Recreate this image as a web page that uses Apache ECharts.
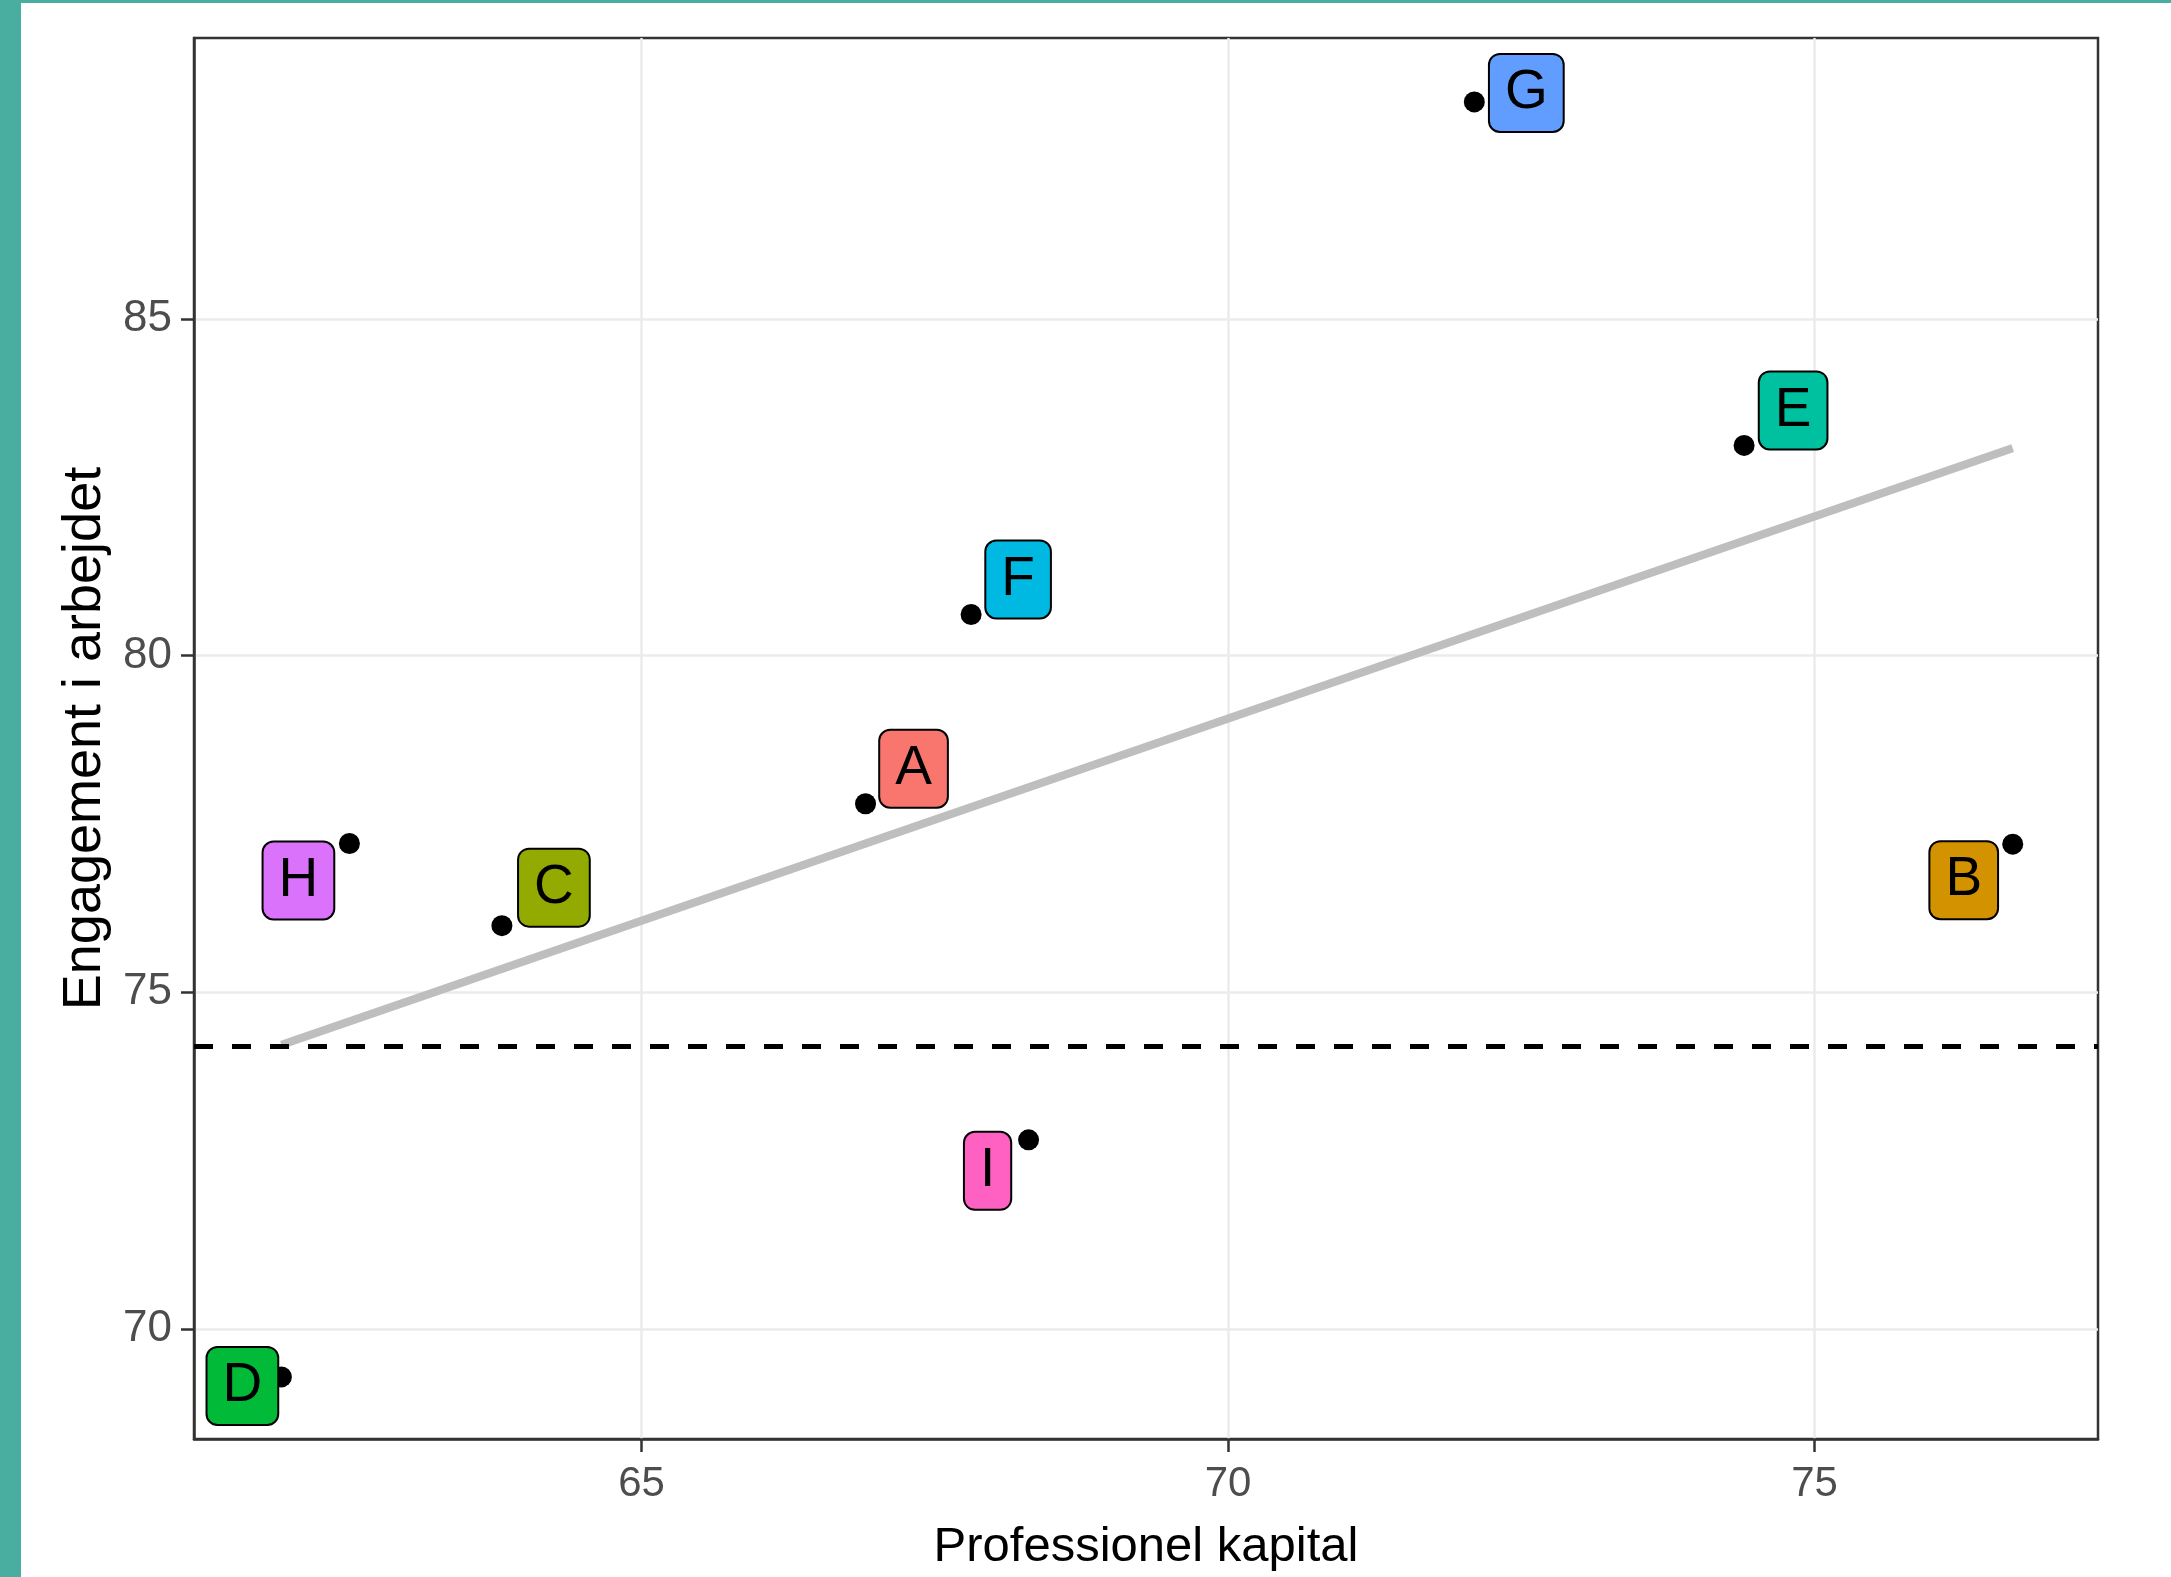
<!DOCTYPE html>
<html>
<head>
<meta charset="utf-8">
<title>Engagement vs professionel kapital</title>
<script src="https://cdn.jsdelivr.net/npm/echarts@6/dist/echarts.min.js"></script>
<style>
    html, body { margin: 0; padding: 0; background: #fff; }
    #chart { width: 2171px; height: 1577px; }
</style>
</head>
<body>
<div id="chart"></div>
<script>
// data
var categories = ['A', 'B', 'C', 'D', 'E', 'F', 'G', 'H', 'I'];
var kapital    = [66.91, 76.69, 63.81, 61.93, 74.40, 67.81, 72.10, 62.51, 68.30];
var engagement = [77.80, 77.20, 75.99, 69.29, 83.12, 80.61, 88.22, 77.21, 72.81];
var xTicks = [65, 70, 75];
var yTicks = [70, 75, 80, 85];
var trendX = [61.93, 76.69];
var trendY = [74.22, 83.08];
var dashLevel = 74.2;

// ggplot hue palette, one colour per group
var colors = ['#F8766D', '#D39200', '#93AA00', '#00BA38', '#00C19F',
              '#00B9E3', '#619CFF', '#DB72FB', '#FF61C3'];
// where each label box sits relative to its point (px), like ggrepel put them
var labelOffsets = [[48, -35], [-49, 36], [52, -38], [-39, 9], [49, -35],
                    [47, -35], [52, -9], [-51, 37], [-41, 31]];

var chart = echarts.init(document.getElementById('chart'));

var pointData = [];
for (var i = 0; i < categories.length; i++) {
    pointData.push({
        name: categories[i],
        value: [kapital[i], engagement[i]],
        label: {
            backgroundColor: colors[i],
            offset: labelOffsets[i]
        }
    });
}

var trendData = [];
for (var j = 0; j < trendX.length; j++) {
    trendData.push([trendX[j], trendY[j]]);
}

var option = {
    animation: false,
    backgroundColor: '#fff',
    graphic: [
        {type: 'rect', shape: {x: 0, y: 0, width: 21, height: 1577}, style: {fill: '#49AE9F'}, z: 100},
        {type: 'rect', shape: {x: 0, y: 0, width: 2171, height: 3}, style: {fill: '#49AE9F'}, z: 100}
    ],
    grid: {
        left: 194,
        right: 73,
        top: 38,
        bottom: 137,
        show: true,
        borderColor: '#333',
        borderWidth: 2.5,
        backgroundColor: '#fff'
    },
    xAxis: {
        type: 'value',
        min: 61.185,
        max: 77.417,
        splitNumber: 3,
        name: 'Professionel kapital',
        nameLocation: 'middle',
        nameGap: 84,
        nameTextStyle: {
            color: '#000',
            fontFamily: 'Liberation Sans',
            fontSize: 49
        },
        axisLine: {show: true, lineStyle: {color: '#333', width: 2.5}},
        axisTick: {show: true, length: 13, customValues: xTicks, lineStyle: {color: '#333', width: 2.5}},
        axisLabel: {customValues: xTicks, margin: 24, color: '#4D4D4D', fontFamily: 'Liberation Sans', fontSize: 42},
        splitLine: {show: true, lineStyle: {color: '#EBEBEB', width: 2.5}}
    },
    yAxis: {
        type: 'value',
        min: 68.368,
        max: 89.169,
        splitNumber: 3,
        name: 'Engagement i arbejdet',
        nameLocation: 'middle',
        nameGap: 73,
        nameTextStyle: {
            color: '#000',
            fontFamily: 'Liberation Sans',
            fontSize: 54
        },
        axisLine: {show: true, lineStyle: {color: '#333', width: 2.5}},
        axisTick: {show: true, length: 13, customValues: yTicks, lineStyle: {color: '#333', width: 2.5}},
        axisLabel: {customValues: yTicks, margin: 22, color: '#4D4D4D', fontFamily: 'Liberation Sans', fontSize: 44},
        splitLine: {show: true, lineStyle: {color: '#EBEBEB', width: 2.5}}
    },
    series: [
        {
            name: 'trend',
            type: 'line',
            data: trendData,
            symbol: 'none',
            silent: true,
            z: 2,
            lineStyle: {color: '#BEBEBE', width: 8, cap: 'butt'},
            markLine: {
                silent: true,
                symbol: 'none',
                label: {show: false},
                lineStyle: {color: '#000', width: 5, type: [19, 19]},
                data: [{yAxis: dashLevel}]
            }
        },
        {
            name: 'points',
            type: 'scatter',
            data: pointData,
            symbol: 'circle',
            symbolSize: 21,
            z: 3,
            itemStyle: {color: '#000', opacity: 1},
            label: {
                show: true,
                position: 'inside',
                formatter: function (p) {
                    return p.name;
                },
                color: '#000',
                fontFamily: 'Liberation Sans',
                fontSize: 55,
                lineHeight: 58,
                padding: [9, 15],
                borderColor: '#000',
                borderWidth: 2,
                borderRadius: 10
            }
        }
    ]
};

chart.setOption(option);
</script>
</body>
</html>
